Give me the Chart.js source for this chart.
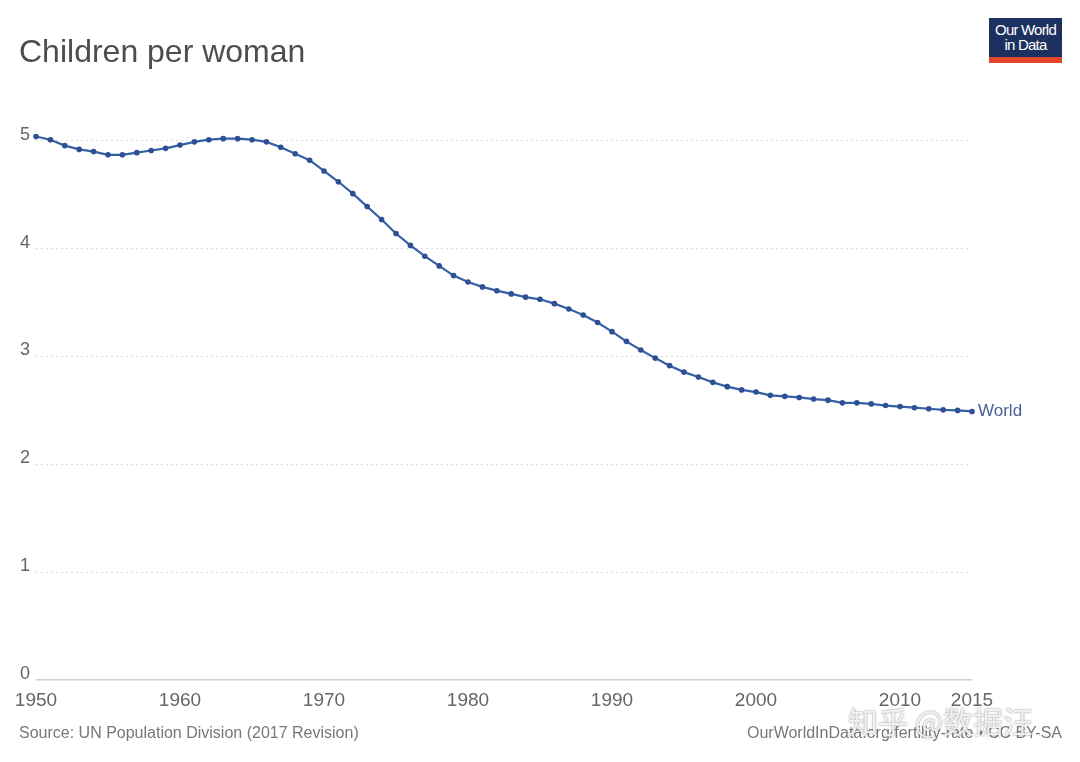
<!DOCTYPE html>
<html lang="en">
<head>
<meta charset="UTF-8">
<title>Children per woman</title>
<style>
    body {
        margin: 0;
        background: #fff;
        font-family: "Liberation Sans", Arial, sans-serif;
    }
    .wrap {
        position: relative;
        width: 1080px;
        height: 762px;
        overflow: hidden;
    }
    canvas {
        position: absolute;
        left: 0;
        top: 0;
    }
    .title {
        position: absolute;
        left: 19px;
        top: 33px;
        font-size: 32px;
        color: #4d4d4d;
    }
    .logo {
        position: absolute;
        left: 989px;
        top: 18px;
        width: 73px;
        background: #1d3160;
        border-bottom: 6px solid #e4462a;
        color: #fff;
        font-family: "Liberation Sans Narrow", "Liberation Sans", Arial, sans-serif;
        font-size: 15px;
        line-height: 15px;
        letter-spacing: -0.8px;
        text-align: center;
        padding-top: 4px;
        height: 35px;
    }
    .source {
        position: absolute;
        left: 19px;
        top: 724px;
        font-size: 16px;
        color: #777;
    }
    .license {
        position: absolute;
        right: 18px;
        top: 724px;
        font-size: 16px;
        color: #777;
    }
    .mark {
        position: absolute;
        left: 848px;
        top: 698px;
        font-family: "Noto Sans CJK SC", sans-serif;
        font-size: 30px;
        color: rgba(255,255,255,0.85);
        text-shadow: 0 0 2px rgba(90,90,90,0.8);
    }
</style>
</head>
<body>
<div class="wrap">
    <canvas id="chart" width="1080" height="762"></canvas>
    <div class="title">Children per woman</div>
    <div class="logo">Our World<br>in Data</div>
    <div class="source">Source: UN Population Division (2017 Revision)</div>
    <div class="license">OurWorldInData.org/fertility-rate • CC BY-SA</div>
    <div class="mark">知乎 @数据汪</div>
</div>

<script src="https://cdn.jsdelivr.net/npm/chart.js"></script>
<script>
    // yearly values
    const years = [];
    for (let y = 1950; y <= 2015; y++) years.push(y);

    const world = [
        5.04, 5.01, 4.955, 4.92, 4.90, 4.87, 4.87, 4.89, 4.91, 4.93,
        4.96, 4.99, 5.01, 5.02, 5.02, 5.01, 4.99, 4.94, 4.88, 4.82,
        4.72, 4.62, 4.51, 4.39, 4.27, 4.14, 4.03, 3.93, 3.84, 3.75,
        3.69, 3.645, 3.61, 3.58, 3.55, 3.53, 3.49, 3.44, 3.385, 3.315,
        3.23, 3.14, 3.06, 2.985, 2.915, 2.855, 2.81, 2.76, 2.72, 2.69,
        2.67, 2.64, 2.63, 2.62, 2.605, 2.595, 2.57, 2.57, 2.56, 2.545,
        2.535, 2.525, 2.515, 2.505, 2.50, 2.49
    ];

    const xTicks = [1950, 1960, 1970, 1980, 1990, 2000, 2010, 2015];
    const yTicks = [0, 1, 2, 3, 4, 5];
    const seriesName = 'World';

    const lineColor = '#3560a6';

    // puts the series name next to the last point
    const endLabel = {
        id: 'endLabel',
        afterDatasetsDraw(chart) {
            const meta = chart.getDatasetMeta(0);
            const last = meta.data[meta.data.length - 1];
            const ctx = chart.ctx;
            ctx.save();
            ctx.font = '17px "Liberation Sans", Arial, sans-serif';
            ctx.fillStyle = '#4a5d9b';
            ctx.textBaseline = 'middle';
            ctx.fillText(seriesName, last.x + 6, last.y);
            ctx.restore();
        }
    };

    new Chart(document.getElementById('chart').getContext('2d'), {
        type: 'line',
        data: {
            datasets: [{
                label: seriesName,
                data: years.map((y, i) => ({ x: y, y: world[i] })),
                borderColor: lineColor,
                backgroundColor: '#2f4f94',
                borderWidth: 2.2,
                pointRadius: 2.8,
                pointBorderWidth: 0,
                fill: false,
                tension: 0,
                clip: false
            }]
        },
        options: {
            responsive: false,
            animation: false,
            layout: { padding: { top: 130, right: 108, bottom: 42, left: 0 } },
            plugins: {
                legend: { display: false },
                tooltip: { enabled: false }
            },
            scales: {
                x: {
                    type: 'linear',
                    min: 1950,
                    max: 2015,
                    afterBuildTicks: (s) => { s.ticks = xTicks.map(v => ({ value: v })); },
                    afterFit: (s) => { s.height = 40; },
                    grid: { display: false, drawTicks: false },
                    border: { display: false },
                    ticks: {
                        autoSkip: false,
                        maxRotation: 0,
                        padding: 9,
                        color: '#666',
                        font: { family: '"Liberation Sans", Arial, sans-serif', size: 19 },
                        callback: (v) => String(v)
                    }
                },
                y: {
                    min: 0,
                    max: 5.1,
                    afterBuildTicks: (s) => { s.ticks = yTicks.map(v => ({ value: v })); },
                    afterFit: (s) => { s.width = 36; },
                    grid: {
                        drawTicks: false,
                        color: (c) => c.tick && c.tick.value === 0 ? '#cfcfcf' : '#dedede',
                        lineWidth: (c) => c.tick && c.tick.value === 0 ? 1.5 : 1
                    },
                    border: {
                        display: false,
                        dash: (c) => c.tick && c.tick.value === 0 ? [] : [2, 3]
                    },
                    ticks: {
                        padding: 6,
                        labelOffset: -6,
                        color: '#666',
                        font: { family: '"Liberation Sans", Arial, sans-serif', size: 18 },
                        callback: (v) => String(v)
                    }
                }
            }
        },
        plugins: [endLabel]
    });
</script>
</body>
</html>
